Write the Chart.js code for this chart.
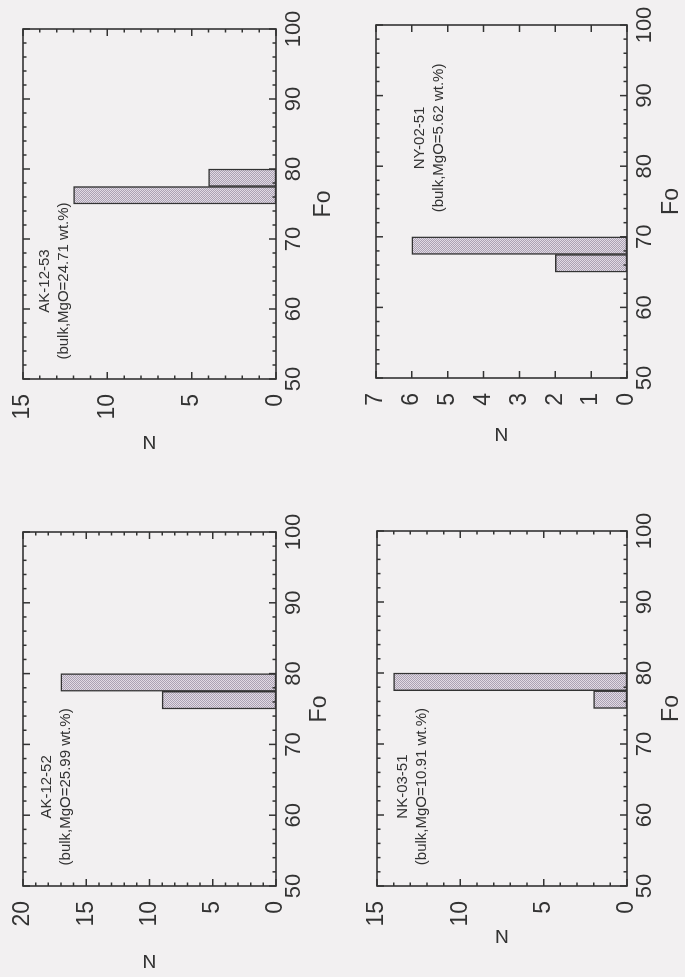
<!DOCTYPE html>
<html>
<head>
<meta charset="utf-8">
<script src="https://cdn.jsdelivr.net/npm/chart.js@4/dist/chart.umd.min.js"></script>
<style>
  html, body { margin: 0; padding: 0; }
  body { width: 685px; height: 977px; overflow: hidden; background: #f2f0f1; position: relative; }
  /* the figure is laid out landscape and turned a quarter turn to the left */
  #page { position: absolute; left: 0; top: 0; width: 977px; height: 685px;
          transform-origin: 0 0; transform: translate(0px, 977px) rotate(-90deg); }
  #page canvas { position: absolute; }
</style>
</head>
<body>
<div id="page">
  <canvas id="c1"></canvas>
  <canvas id="c2"></canvas>
  <canvas id="c3"></canvas>
  <canvas id="c4"></canvas>
</div>
<script>
// --- data ---
const foTicks = [50, 60, 70, 80, 90, 100];
const binWidth = 2.5;

const ak1253Bins = [75, 77.5];
const ak1253Counts = [12, 4];
const ak1253NTicks = [0, 5, 10, 15];

const ny0251Bins = [65, 67.5];
const ny0251Counts = [2, 6];
const ny0251NTicks = [0, 1, 2, 3, 4, 5, 6, 7];

const ak1252Bins = [75, 77.5];
const ak1252Counts = [9, 17];
const ak1252NTicks = [0, 5, 10, 15, 20];

const nk0351Bins = [75, 77.5];
const nk0351Counts = [2, 14];
const nk0351NTicks = [0, 5, 10, 15];

const sampleNames = ['AK-12-53', 'NY-02-51', 'AK-12-52', 'NK-03-51'];
const sampleBulk = ['(bulk,MgO=24.71 wt.%)', '(bulk,MgO=5.62 wt.%)', '(bulk,MgO=25.99 wt.%)', '(bulk,MgO=10.91 wt.%)'];

// --- layout (unrotated page coords) ---
const Y_W = 90, X_H = 64, PAD_T = 34, PAD_R = 28;
const ink = '#333';
Chart.defaults.font.family = '"Liberation Sans", Arial, sans-serif';
Chart.defaults.color = ink;

function stipple() {
    const c = document.createElement('canvas');
    c.width = 2; c.height = 2;
    const g = c.getContext('2d');
    g.fillStyle = '#e1dae4'; g.fillRect(0, 0, 2, 2);
    g.fillStyle = '#aba2b3'; g.fillRect(0, 0, 1, 1); g.fillRect(1, 1, 1, 1);
    return g.createPattern(c, 'repeat');
}

// box round the plot, ticks pointing inward on all four sides, sample label
const boxPlugin = {
    id: 'box',
    afterDraw(chart, args, opts) {
        const { ctx, chartArea: a, scales: { x, y } } = chart;
        ctx.save();
        ctx.strokeStyle = ink;
        ctx.lineWidth = 1.5;
        ctx.beginPath();
        for (let v = 50; v <= 100; v += 2) {
            const len = foTicks.includes(v) ? 7 : 3.5;
            const px = x.getPixelForValue(v);
            ctx.moveTo(px, a.bottom); ctx.lineTo(px, a.bottom - len);
            ctx.moveTo(px, a.top); ctx.lineTo(px, a.top + len);
        }
        const nMax = opts.nTicks[opts.nTicks.length - 1];
        for (let v = 0; v <= nMax; v += 1) {
            const len = opts.nTicks.includes(v) ? 7 : 3.5;
            const py = y.getPixelForValue(v);
            ctx.moveTo(a.left, py); ctx.lineTo(a.left + len, py);
            ctx.moveTo(a.right, py); ctx.lineTo(a.right - len, py);
        }
        ctx.stroke();
        ctx.lineWidth = 1.6;
        ctx.strokeRect(a.left, a.top, a.right - a.left, a.bottom - a.top);

        ctx.fillStyle = ink;
        ctx.font = '15px "Liberation Sans", Arial, sans-serif';
        ctx.textAlign = 'center';
        ctx.textBaseline = 'middle';
        const tx = x.getPixelForValue(opts.noteAt);
        ctx.fillText(opts.name, tx, a.top + opts.noteDy);
        ctx.fillText(opts.bulk, tx, a.top + opts.noteDy + 19);
        ctx.restore();
    }
};

function makePanel(id, bins, counts, nTicks, idx, lay) {
    const el = document.getElementById(id);
    el.width = Y_W + lay.w + PAD_R;
    el.height = PAD_T + lay.h + X_H;
    el.style.left = (lay.u - Y_W) + 'px';
    el.style.top = (lay.v - PAD_T) + 'px';

    return new Chart(el, {
        type: 'bar',
        data: {
            datasets: [{
                data: bins.map((b, i) => ({ x: b + binWidth / 2, y: counts[i] })),
                backgroundColor: stipple(),
                borderColor: ink,
                borderWidth: 1.5,
                borderSkipped: false,
                barPercentage: 1,
                categoryPercentage: 1
            }]
        },
        options: {
            responsive: false,
            animation: false,
            events: [],
            layout: { padding: { top: PAD_T, right: PAD_R, left: 0, bottom: 0 } },
            plugins: {
                legend: { display: false },
                tooltip: { enabled: false },
                box: { nTicks: nTicks, name: sampleNames[idx], bulk: sampleBulk[idx], noteAt: lay.noteAt, noteDy: lay.noteDy }
            },
            scales: {
                x: {
                    type: 'linear', min: 50, max: 100, offset: false,
                    grid: { display: false, drawTicks: false },
                    border: { display: false },
                    afterBuildTicks: s => { s.ticks = foTicks.map(v => ({ value: v })); },
                    afterFit: s => { s.height = X_H; },
                    ticks: { padding: 5, maxRotation: 0, autoSkip: false, font: { size: 22 } },
                    title: { display: true, text: 'Fo', font: { size: 23 },
                             padding: { top: 0, bottom: X_H - lay.foTitle - 13.8 } }
                },
                y: {
                    type: 'linear', min: 0, max: nTicks[nTicks.length - 1],
                    grid: { display: false, drawTicks: false },
                    border: { display: false },
                    afterBuildTicks: s => { s.ticks = nTicks.map(v => ({ value: v })); },
                    afterFit: s => { s.width = Y_W; },
                    ticks: { padding: 15, font: { size: 23 } },
                    title: { display: true, text: 'N', font: { size: 19 },
                             padding: { top: Y_W - lay.nTitle - 11.4, bottom: 0 } }
                }
            }
        },
        plugins: [boxPlugin]
    });
}

makePanel('c1', ak1253Bins, ak1253Counts, ak1253NTicks, 0,
    { u: 598, v: 23, w: 350, h: 253, nTitle: 62, foTitle: 48, noteAt: 64, noteDy: 22 });
makePanel('c2', ny0251Bins, ny0251Counts, ny0251NTicks, 1,
    { u: 599, v: 376, w: 353, h: 251, nTitle: 55, foTitle: 45, noteAt: 84, noteDy: 44 });
makePanel('c3', ak1252Bins, ak1252Counts, ak1252NTicks, 2,
    { u: 91, v: 23, w: 354, h: 253, nTitle: 74, foTitle: 44, noteAt: 64, noteDy: 24 });
makePanel('c4', nk0351Bins, nk0351Counts, nk0351NTicks, 3,
    { u: 91, v: 377, w: 355, h: 250, nTitle: 49, foTitle: 45, noteAt: 64, noteDy: 26 });
</script>
</body>
</html>
